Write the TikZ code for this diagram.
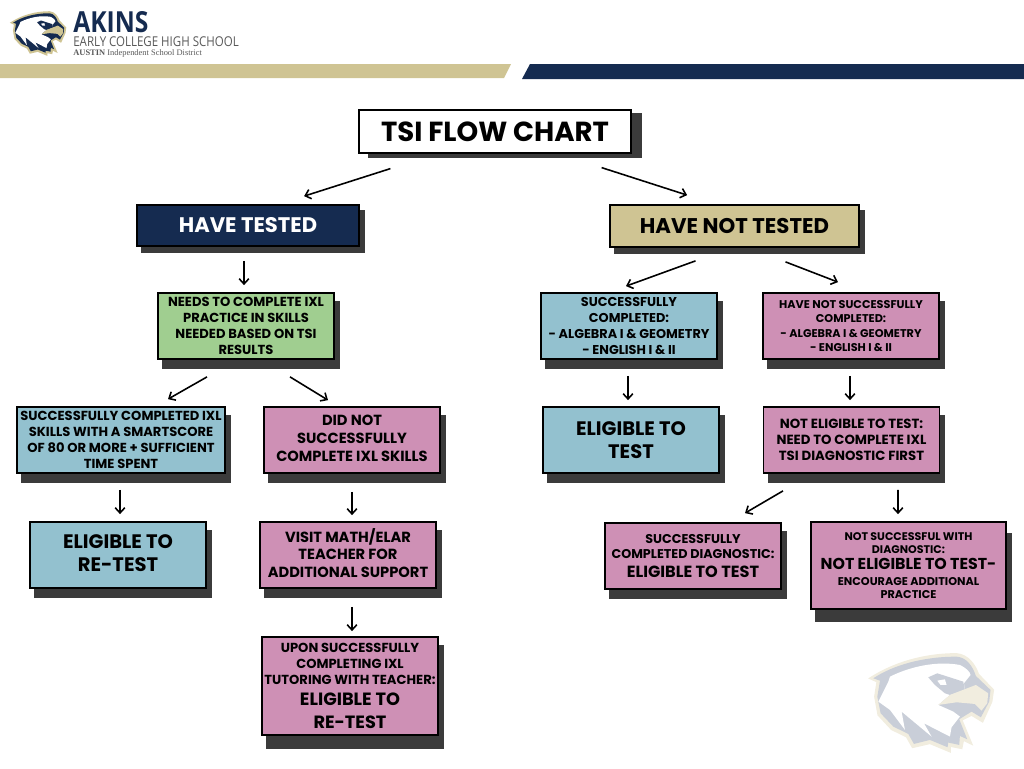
\documentclass[tikz,border=0pt]{standalone}
\usepackage{fontspec}
\setmainfont{Poppins}
\newfontfamily\logosans[FakeStretch=0.85]{Open Sans}
\newfontfamily\logoserif{Liberation Serif}
\usetikzlibrary{calc, arrows.meta, shadows}
\definecolor{navy}{HTML}{152B50}
\definecolor{gold}{HTML}{CFC493}
\definecolor{leaf}{HTML}{A0CE90}
\definecolor{sky}{HTML}{93C1CF}
\definecolor{rose}{HTML}{CE90B5}
\definecolor{slab}{HTML}{3B3B3B}
\definecolor{logogray}{HTML}{595959}
\definecolor{ghost}{HTML}{C9CED8}
\definecolor{ghostgold}{HTML}{F1EDDF}
\newcommand{\fsz}[2]{\fontsize{#1}{#2}\selectfont}
\tikzset{
    card/.style={draw=black,line width=1pt,inner sep=0pt,align=center},
    slabbed/.style 2 args={general shadow={shadow xshift=#1*0.02cm,shadow yshift=-#2*0.02cm,fill=slab,draw=slab}},
    plate/.style={card,minimum width=176*0.02cm,minimum height=66*0.02cm,slabbed={5}{9}},
    smalltext/.style={font=\bfseries\fsz{7.45}{9.1}},
    midtext/.style={font=\bfseries\fsz{8.35}{10.2},text depth=2.3pt},
    bigtext/.style={font=\bfseries\fsz{11.1}{13}},
    flow/.style={-{Straight Barb[length=3pt,width=5.5pt]},line width=0.9pt},
    pics/eagle/.style 2 args={code={
        \fill[#2,draw=#2,line width=1pt] (60,115)..controls (130,70) and (220,42)..(320,42)..controls (355,45) and (375,75)..(385,103)--(430,150)--(425,185)--(398,245)--(365,225)--(335,240)--(365,312)--(340,300)--(335,325)--(300,318)--(300,335)--(240,310)--(188,322)--(170,290)--(125,268)--(85,225)--(75,170)--(82,125)--cycle;
        \fill[#1] (70,115)..controls (130,75) and (220,50)..(320,50)..controls (350,52) and (368,78)..(378,108)--(422,150)--(418,185)--(393,232)--(365,215)--(328,238)--(352,298)--(330,288)--(328,315)--(295,308)--(293,322)--(240,300)--(192,312)--(175,282)--(130,260)--(92,220)--(82,170)--(90,122)--cycle;
        \fill[white] (120,110)..controls (180,80) and (260,62)..(330,75)..controls (350,85) and (360,95)..(362,105)--(342,130)--(345,150)--(300,165)--(265,195)--(310,215)--(330,230)--(305,262)--(300,290)--(222,250)--(245,290)--(155,215)--(165,270)--(120,210)--(85,185)--(115,125)--cycle;
        \fill[#1] (235,112)--(262,100)--(340,125)--(345,150)--(300,165)--(285,160)--(255,135)--cycle;
        \fill[white] (262,122)--(285,118)--(290,135)--(272,135)--cycle;
        \fill[#2] (265,195)--(300,165)--(378,135)--(415,160)--(412,190)--(395,212)--(375,192)--(320,187)--cycle;
    }}
}
\begin{document}
\begin{tikzpicture}[x=0.02cm,y=-0.02cm]
    \useasboundingbox (0,0) rectangle (1024,768);
    % header bars and logo
    \fill[gold] (0,64)--(511,64)--(504,78)--(0,78)--cycle;
    \fill[navy] (530,64)--(1024,64)--(1024,79)--(522,79)--cycle;
    \pic[scale=0.145] at (3,6) {eagle={navy}{gold}};
    \pic[scale=0.333] at (850,640) {eagle={ghost}{ghostgold}};
    \node[anchor=west,inner sep=0pt,text=navy,font=\logosans\bfseries\fsz{16.5}{18}] (akins) at (73,22) {AKINS};
    \node[anchor=west,inner sep=0pt,text=logogray,font=\logosans\fsz{7.7}{9}] (early) at (73,42) {EARLY COLLEGE HIGH SCHOOL};
    \node[anchor=west,inner sep=0pt,text=logogray,font=\logoserif\fsz{4.8}{5}] (isd) at (73,53) {\textbf{AUSTIN} Independent School District};
    % top level
    \node[card,line width=0.7pt,fill=white,minimum width=272*0.02cm,minimum height=43*0.02cm,slabbed={10}{4},font=\bfseries\fsz{15.7}{18}] (title) at (495,131.5) {TSI FLOW CHART};
    \node[card,fill=navy,text=white,minimum width=222*0.02cm,minimum height=41*0.02cm,slabbed={5}{6},font=\bfseries\fsz{12}{14}] (tested) at (248,225.5) {HAVE TESTED};
    \node[card,fill=gold,minimum width=249*0.02cm,minimum height=42*0.02cm,slabbed={5}{6},font=\bfseries\fsz{12.1}{14}] (untested) at (734.5,226) {HAVE NOT TESTED};
    % left branch
    \node[plate,fill=leaf,smalltext,text depth=-1.7pt] (practice) at (246,326) {NEEDS TO COMPLETE IXL\\PRACTICE IN SKILLS\\NEEDED BASED ON TSI\\RESULTS};
    \node[plate,fill=sky,minimum width=208*0.02cm,smalltext] (passed) at (121,440) {SUCCESSFULLY COMPLETED IXL\\SKILLS WITH A SMARTSCORE\\OF 80 OR MORE + SUFFICIENT\\TIME SPENT};
    \node[plate,fill=rose,midtext] (failed) at (352,440) {DID NOT\\SUCCESSFULLY\\COMPLETE IXL SKILLS};
    \node[plate,fill=sky,bigtext,text depth=2.3pt] (retest) at (118,555) {ELIGIBLE TO\\RE-TEST};
    \node[plate,fill=rose,midtext] (visit) at (348,555) {VISIT MATH/ELAR\\TEACHER FOR\\ADDITIONAL SUPPORT};
    \node[plate,fill=rose,minimum height=98*0.02cm,slabbed={5}{13},smalltext] (upon) at (350,686) {UPON SUCCESSFULLY\\COMPLETING IXL\\TUTORING WITH TEACHER:\\[2.5pt]\fsz{10.1}{13}ELIGIBLE TO\\[4pt]\fsz{10.1}{13}RE-TEST};
    % right branch
    \node[plate,fill=sky,font=\bfseries\fsz{7.3}{9},text depth=-1.7pt] (done) at (629,326) {SUCCESSFULLY\\COMPLETED:\\- ALGEBRA I \& GEOMETRY\\- ENGLISH I \& II};
    \node[plate,fill=rose,font=\bfseries\fsz{6.4}{8.2}] (notdone) at (851,326) {HAVE NOT SUCCESSFULLY\\COMPLETED:\\- ALGEBRA I \& GEOMETRY\\- ENGLISH I \& II};
    \node[plate,fill=sky,bigtext] (eligible) at (631,440) {ELIGIBLE TO\\TEST};
    \node[plate,fill=rose,font=\bfseries\fsz{7.55}{9}] (noteligible) at (851.5,440) {NOT ELIGIBLE TO TEST:\\NEED TO COMPLETE IXL\\TSI DIAGNOSTIC FIRST};
    \node[plate,fill=rose,font=\bfseries\fsz{7.25}{8.6},text depth=-1.2pt] (diagok) at (693,556) {SUCCESSFULLY\\COMPLETED DIAGNOSTIC:\\[2.5pt]\fsz{9.2}{11}ELIGIBLE TO TEST};
    \node[card,fill=rose,minimum width=195*0.02cm,minimum height=87*0.02cm,slabbed={5}{12},font=\bfseries\fsz{6.3}{7.6}] (diagno) at (908.5,565.5) {NOT SUCCESSFUL WITH\\DIAGNOSTIC:\\[1.5pt]\fsz{9}{10}NOT ELIGIBLE TO TEST-\\[1.5pt]\fsz{6.4}{8}ENCOURAGE ADDITIONAL\\\fsz{6.4}{8}PRACTICE};
    % arrows
    \draw[flow] ([shift={(32,15)}]title.south west) -- ([shift={(168,-8)}]tested.north west);
    \draw[flow] ([shift={(-30,14)}]title.south east) -- ([shift={(78,-9)}]untested.north west);
    \draw[flow] ([shift={(-4,14)}]tested.south) -- ([shift={(-2,-7)}]practice.north);
    \draw[flow] ([shift={(-39,17)}]practice.south) -- ([shift={(47,-7)}]passed.north);
    \draw[flow] ([shift={(44,17)}]practice.south) -- ([shift={(-24,-6)}]failed.north);
    \draw[flow] ([shift={(-1,16)}]passed.south) -- ([shift={(2,-7)}]retest.north);
    \draw[flow] ([shift={(0,18)}]failed.south) -- ([shift={(4,-6)}]visit.north);
    \draw[flow] ([shift={(4,18)}]visit.south) -- ([shift={(2,-5)}]upon.north);
    \draw[flow] ([shift={(-39,13)}]untested.south) -- ([shift={(-3,-6)}]done.north);
    \draw[flow] ([shift={(51,14)}]untested.south) -- ([shift={(-13,-10)}]notdone.north);
    \draw[flow] ([shift={(-1,16)}]done.south) -- ([shift={(-3,-6)}]eligible.north);
    \draw[flow] ([shift={(-1,16)}]notdone.south) -- ([shift={(-1.5,-6)}]noteligible.north);
    \draw[flow] ([shift={(-68.5,17)}]noteligible.south) -- ([shift={(52,-9)}]diagok.north);
    \draw[flow] ([shift={(46.5,16)}]noteligible.south) -- ([shift={(-10.5,-7)}]diagno.north);
\end{tikzpicture}
\end{document}
